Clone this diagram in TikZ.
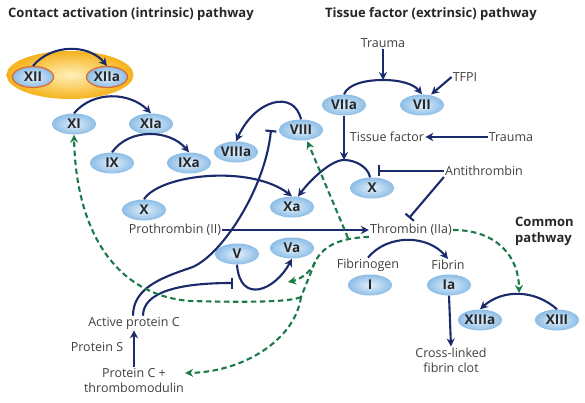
\documentclass[tikz,border=0pt]{standalone}
\usepackage{fontspec}
\setmainfont{Open Sans}
\usetikzlibrary{arrows.meta,shapes.geometric}
\definecolor{navy}{HTML}{1B2A6B}
\definecolor{dgreen}{HTML}{1A7A48}
\definecolor{lblc}{HTML}{404040}
\definecolor{ellin}{HTML}{E2F0FB}
\definecolor{ellout}{HTML}{8CBDE6}
\definecolor{orin}{HTML}{FFF0B8}
\definecolor{orout}{HTML}{F5B21C}
\definecolor{orbord}{HTML}{E0662A}
\begin{document}
\begin{tikzpicture}[x=1pt,y=-1pt,
 fac/.style={ellipse, inner color=ellin, outer color=ellout, minimum width=44pt, minimum height=21pt, inner sep=0pt, font=\bfseries\fontsize{13.5}{14}\selectfont, text=black!85},
 lbl/.style={text=lblc, font=\fontsize{12.5}{15}\selectfont, inner sep=1pt},
 ttl/.style={font=\bfseries\fontsize{13}{14}\selectfont, text=black!85, inner sep=0pt},
 arr/.style={draw=navy, line width=2.1pt, -{Stealth[length=8pt,width=8pt]}},
 inh/.style={draw=navy, line width=2.1pt, -{Bar[width=11pt]}},
 dshp/.style={draw=dgreen, line width=2.1pt, dash pattern=on 5.5pt off 3.5pt},
 dsh/.style={dshp, -{Stealth[length=8pt,width=8pt]}},
]
\fill[white] (0,0) rectangle (585,403);
\path[use as bounding box] (0,0) rectangle (585,403);

% titles
\node[ttl, anchor=west] (t1) at (8,14) {Contact activation (intrinsic) pathway};
\node[ttl, anchor=west] (t2) at (325,14) {Tissue factor (extrinsic) pathway};
\node[ttl, anchor=west, align=left, font=\bfseries\fontsize{13}{16}\selectfont] (t3) at (515,231) {Common\\pathway};

% contact activation
\node[ellipse, inner color=orin, outer color=orout, minimum width=127pt, minimum height=48pt] (bg) at (70,75) {};
\node[fac, draw=orbord, line width=1.2pt, minimum width=41pt] (XII) at (33,77) {XII};
\node[fac, draw=orbord, line width=1.2pt, minimum width=41pt] (XIIa) at (107,77) {XIIa};
\node[fac] (XI) at (74,124) {XI};
\node[fac] (XIa) at (151,124) {XIa};
\node[fac] (IX) at (112,163) {IX};
\node[fac] (IXa) at (189,163) {IXa};
\node[fac] (VIIIa) at (236,152) {VIIIa};
\node[fac] (VIII) at (301,130) {VIII};
\node[fac] (Xl) at (144,210) {X};
\node[fac] (Xa) at (292,207) {Xa};
\node[fac] (V) at (237,254) {V};
\node[fac] (Va) at (292,248) {Va};

% extrinsic
\node[lbl] (Tr1) at (383,43) {Trauma};
\node[lbl] (TFPI) at (465,77) {TFPI};
\node[fac] (VIIa) at (344,105) {VIIa};
\node[fac] (VII) at (422,105) {VII};
\node[lbl] (TF) at (387,137) {Tissue factor};
\node[lbl] (Tr2) at (511,137) {Trauma};
\node[fac] (Xr) at (372,188) {X};
\node[lbl] (AT) at (484,171) {Antithrombin};

% common
\node[lbl] (Pro) at (175,230) {Prothrombin (II)};
\node[lbl] (Thr) at (411,230) {Thrombin (IIa)};
\node[lbl] (Fbg) at (368,265) {Fibrinogen};
\node[fac] (I) at (370,285) {I};
\node[lbl] (Fbn) at (448,265) {Fibrin};
\node[fac] (Ia) at (449,285) {Ia};
\node[fac] (XIIIa) at (480,320) {XIIIa};
\node[fac] (XIII) at (557,320) {XIII};
\node[lbl, align=center] (CL) at (451,360) {Cross-linked\\fibrin clot};

% protein C
\node[lbl] (APC) at (134,323) {Active protein C};
\node[lbl] (PS) at (97,347) {Protein S};
\node[lbl, align=center] (PCT) at (134,380) {Protein C +\\thrombomodulin};

% coordinates on arcs
\coordinate (pk) at (344,160);
\coordinate (pk2) at (383,80);
\coordinate (pk3) at (519,293);
\coordinate (vinh) at (233,283);
\coordinate (vva) at (288,282);
\coordinate (m1) at (190,268);
\coordinate (viiiinh) at (271,130);
\coordinate (b0) at (348,238);
\coordinate (b1) at (315,262);
\coordinate (b2) at (301,297);
\coordinate (b3) at (190,301);

% solid arrows
\draw[arr] (XII.north) to[out=50,in=130] (XIIa.north);
\draw[arr] (XI.north) to[out=50,in=135] (XIa.north);
\draw[arr] (IX.north) to[out=55,in=130] (IXa.north);
\draw[arr] (VIII.north) .. controls +(-7,-30) and +(19,-42) .. (VIIIa.north);
\draw[arr] (Xl.north) .. controls +(16,-25) and +(-42,-32) .. (Xa.north);
\draw[arr] (Xr.100) .. controls +(-2,-10) and +(12,0) .. (pk) .. controls +(-14,0) and +(10,-14) .. (Xa.60);
\draw[arr] (VIIa.south) -- (pk);
\draw[arr] (VIIa.north) .. controls +(4,-10) and +(-18,0) .. (pk2) .. controls +(18,0) and +(-8,-10) .. (VII.north);
\draw[arr] (Tr1.south) -- (pk2);
\draw[arr, shorten >=1pt] (TFPI.west) -- (VII.50);
\draw[arr] (Tr2.west) -- (TF.east);
\draw[inh] (AT.west) -- ([xshift=6pt]Xr.north |- AT.west);
\draw[inh] (AT.south west) -- ([xshift=-2pt,yshift=5pt]Thr.north);
\draw[arr] (Pro.east) -- (Thr.west);
\draw[arr] (Fbg.north) to[out=50,in=130] (Fbn.north);
\draw[arr] (Ia.south) -- (CL.north);
\draw[arr] (XIII.north) to[out=138,in=42] (XIIIa.north);
\draw[arr] (V.south) .. controls +(3,40) and +(-17,32) .. (Va.south);
\draw[arr] (PCT.north) -- (APC.south);
\draw[inh] ([xshift=9pt]APC.north) .. controls +(0,-23) and +(-56,0) .. (vinh);
\draw[inh] ([xshift=-1pt]APC.north) .. controls +(0,-27) and +(-30,10) .. (m1) .. controls +(30,-10) and +(-6,60) .. (viiiinh);

% dashed feedback
\draw[dsh] (Thr.east) .. controls +(45,0) and +(0,-35) .. (pk3);
\draw[dshp] (Thr.south west) .. controls +(-33,1) and +(7,-14) .. (b1) .. controls +(-5,13) and +(4,-10) .. (b2);
\draw[dsh] (b1) .. controls +(-5,12) and +(10,-2) .. (vva);
\draw[dsh] (b2) .. controls +(-12,6) and +(40,1) .. (b3) .. controls +(-75,-6) and +(2,96) .. (XI.south);
\draw[dsh] (b2) .. controls +(-6,43) and +(58,-1) .. ([yshift=7pt]PCT.east);
\draw[dsh, shorten >=1pt] (b0) -- (VIII.300);
\end{tikzpicture}
\end{document}
